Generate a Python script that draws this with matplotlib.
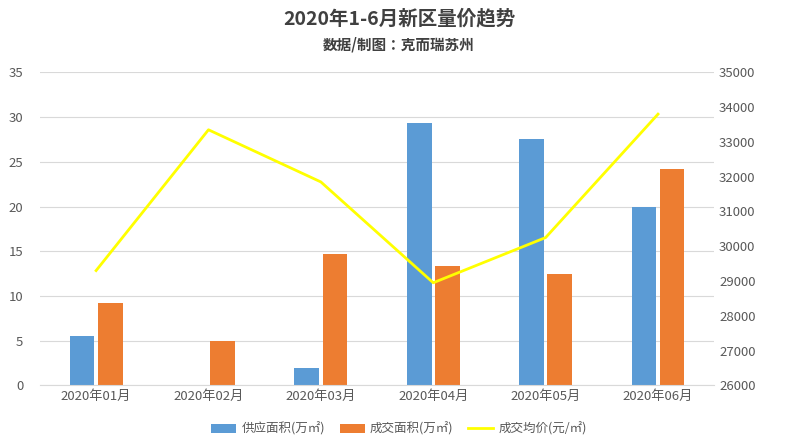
import numpy as np
import matplotlib
matplotlib.use('Agg')
import matplotlib.pyplot as plt

plt.rcParams['font.family'] = ['Noto Sans CJK SC', 'Noto Sans CJK JP', 'Noto Sans CJK TC', 'DejaVu Sans']

months = ['2020年01月', '2020年02月', '2020年03月', '2020年04月', '2020年05月', '2020年06月']
supply = [5.5, 0, 1.9, 29.3, 27.6, 20.0]
deal = [9.2, 5.0, 14.7, 13.3, 12.5, 24.2]
price = [29300, 33350, 31850, 28950, 30250, 33800]

fig = plt.figure(figsize=(7.98, 4.47), dpi=100)
ax = fig.add_axes([0.05, 0.138, 0.845, 0.70])
ax2 = ax.twinx()

x = np.arange(len(months))
w = 0.22
ax.bar(x - 0.125, supply, w, color='#5b9bd5', label='供应面积(万㎡)')
ax.bar(x + 0.125, deal, w, color='#ed7d31', label='成交面积(万㎡)')
ax2.plot(x, price, color='#ffff00', lw=2.0, label='成交均价(元/㎡)')

ax.set_xlim(-0.5, 5.5)
ax.set_ylim(0, 35)
ax.set_yticks(range(0, 36, 5))
ax2.set_ylim(26000, 35000)
ax2.set_yticks(range(26000, 35001, 1000))
ax.set_xticks(x)
ax.set_xticklabels(months)
ax.grid(axis='y', color='#d9d9d9', lw=0.8)
ax.set_axisbelow(True)
for a in (ax, ax2):
    for s in a.spines.values():
        s.set_visible(False)
    a.tick_params(length=0, labelsize=9.5, colors='#595959')
ax.tick_params(axis='y', pad=12)
ax.spines['bottom'].set_visible(True)
ax.spines['bottom'].set_color('#d9d9d9')

fig.text(0.5, 0.945, '2020年1-6月新区量价趋势', ha='center', fontsize=14, color='#404040', fontweight='bold')
fig.text(0.5, 0.89, '数据/制图：克而瑞苏州', ha='center', fontsize=10.5, color='#404040', fontweight='bold')

h1, l1 = ax.get_legend_handles_labels()
h2, l2 = ax2.get_legend_handles_labels()
fig.legend(h1 + h2, l1 + l2, loc='lower center', bbox_to_anchor=(0.5, 0.0), ncol=3,
           frameon=False, fontsize=9, labelcolor='#595959', handlelength=2.0,
           handletextpad=0.4, columnspacing=1.2)

fig.savefig('out.png')
